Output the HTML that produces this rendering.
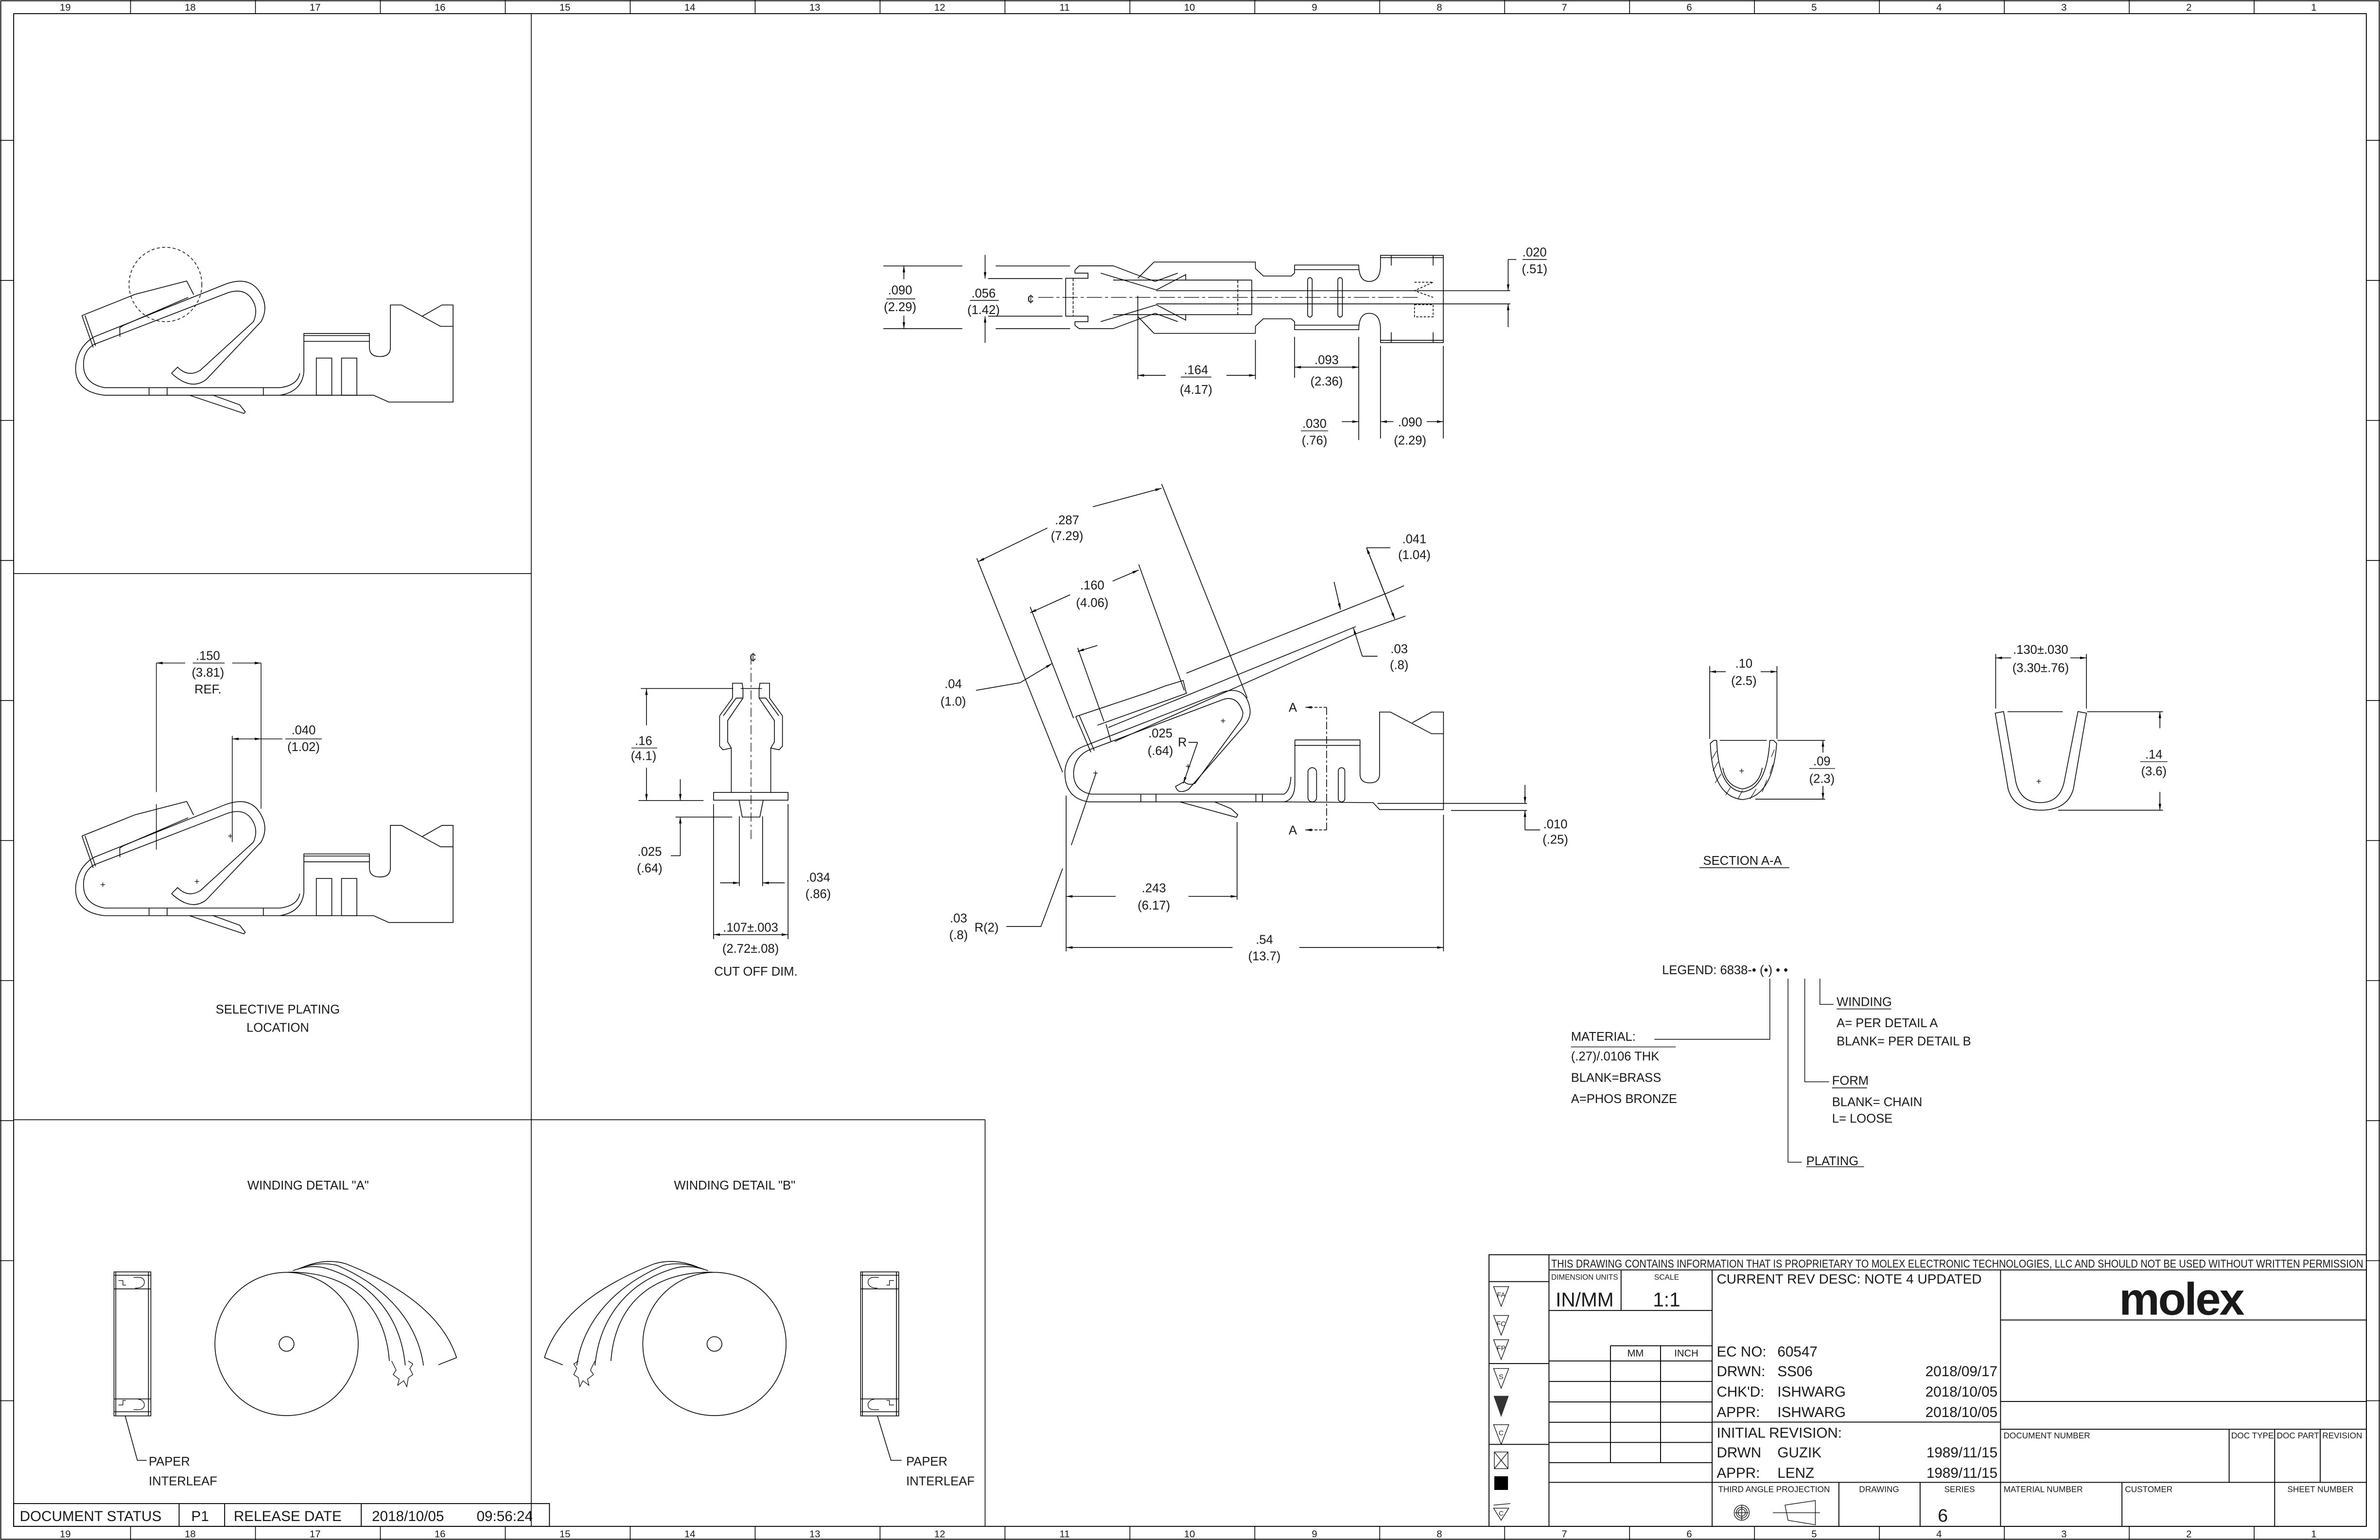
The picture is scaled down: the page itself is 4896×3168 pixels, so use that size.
<!DOCTYPE html>
<html><head><meta charset="utf-8"><style>
html,body{margin:0;padding:0;background:#fff;}
svg{display:block;}
text{font-family:"Liberation Sans",sans-serif;fill:#1a1a1a;}
.d{font-size:8.2px;text-anchor:middle;}
.l{font-size:8.2px;}
</style></head><body>
<svg xmlns="http://www.w3.org/2000/svg" width="4896" height="3168" viewBox="0 0 1568 1015" preserveAspectRatio="none">
<defs>
<marker id="a" viewBox="0 0 10 4" refX="10" refY="2" markerWidth="4.2" markerHeight="1.7" markerUnits="userSpaceOnUse" orient="auto-start-reverse"><path d="M0,0 L10,2 L0,4 z" fill="#000"/></marker>
<g id="conn" fill="none" stroke="#000" stroke-width="0.5">
<path d="M184.5,260.5 L68.8,260.5 Q48,258 50,240 Q52,228 62,222 L148,187.5 Q165,181 172,194 Q177,203 172,212 L136,250 Q126,258 113,246"/>
<path d="M184.5,255.5 L69,255.5 Q55,253 55,240 Q55,231 62,227 L150,193 Q162,189 167,199 Q170,205 167,212 L132,244 Q124,249 117,242 L113,246"/>
<polyline points="54,208 61.4,229 "/>
<polyline points="54,208 89,194 118.4,186.4 123,185.2 127.6,194.2"/>
<polyline points="56,208 63,228"/>
<polyline points="79,222 78.9,216 81,214.6 124,196"/>
<line x1="98.2" y1="255.5" x2="98.2" y2="260.5"/><line x1="110.1" y1="255.5" x2="110.1" y2="260.5"/><line x1="173.5" y1="255.5" x2="173.5" y2="260.5"/>
<polyline points="124.8,260.5 160.7,272.5 161.6,271.5 157.9,266.8 140.4,260.5"/>
<path d="M184.5,260.5 Q199,258 200.2,245 L200.2,219.8 L243.4,219.8 L243.4,229 Q243.4,235 250.3,235 Q257.2,235 257.2,229 L257.2,201 L264.5,201 L290.2,215.1 L298.5,215.1"/>
<path d="M184.5,255.5 Q196,254 197.5,246"/>
<line x1="200.2" y1="221.2" x2="243.4" y2="221.2"/><line x1="200.2" y1="225" x2="243.4" y2="225"/>
<polyline points="278.3,208.3 291.2,201 298.5,201 298.5,265 256.2,265 246.1,260.5 184.5,260.5"/>
<rect x="208.4" y="236" width="10.2" height="24.5"/><rect x="225" y="236" width="10.1" height="24.5"/>
</g>
</defs>
<rect x="0.5" y="0.5" width="1567" height="1014" fill="#fff" stroke="#000" stroke-width="0.6"/>
<rect x="9" y="9" width="1550" height="997" fill="none" stroke="#000" stroke-width="0.6"/>
<g stroke="#000" stroke-width="0.5">
<line x1="86" y1="0" x2="86" y2="9"/><line x1="168.3" y1="0" x2="168.3" y2="9"/><line x1="250.6" y1="0" x2="250.6" y2="9"/><line x1="332.9" y1="0" x2="332.9" y2="9"/><line x1="415.2" y1="0" x2="415.2" y2="9"/><line x1="497.5" y1="0" x2="497.5" y2="9"/><line x1="579.8" y1="0" x2="579.8" y2="9"/><line x1="662.1" y1="0" x2="662.1" y2="9"/><line x1="744.4" y1="0" x2="744.4" y2="9"/><line x1="826.7" y1="0" x2="826.7" y2="9"/><line x1="909" y1="0" x2="909" y2="9"/><line x1="991.3" y1="0" x2="991.3" y2="9"/><line x1="1073.6" y1="0" x2="1073.6" y2="9"/><line x1="1155.9" y1="0" x2="1155.9" y2="9"/><line x1="1238.2" y1="0" x2="1238.2" y2="9"/><line x1="1320.5" y1="0" x2="1320.5" y2="9"/><line x1="1402.8" y1="0" x2="1402.8" y2="9"/><line x1="1485.1" y1="0" x2="1485.1" y2="9"/>
<line x1="86" y1="1006" x2="86" y2="1015"/><line x1="168.3" y1="1006" x2="168.3" y2="1015"/><line x1="250.6" y1="1006" x2="250.6" y2="1015"/><line x1="332.9" y1="1006" x2="332.9" y2="1015"/><line x1="415.2" y1="1006" x2="415.2" y2="1015"/><line x1="497.5" y1="1006" x2="497.5" y2="1015"/><line x1="579.8" y1="1006" x2="579.8" y2="1015"/><line x1="662.1" y1="1006" x2="662.1" y2="1015"/><line x1="744.4" y1="1006" x2="744.4" y2="1015"/><line x1="826.7" y1="1006" x2="826.7" y2="1015"/><line x1="909" y1="1006" x2="909" y2="1015"/><line x1="991.3" y1="1006" x2="991.3" y2="1015"/><line x1="1073.6" y1="1006" x2="1073.6" y2="1015"/><line x1="1155.9" y1="1006" x2="1155.9" y2="1015"/><line x1="1238.2" y1="1006" x2="1238.2" y2="1015"/><line x1="1320.5" y1="1006" x2="1320.5" y2="1015"/><line x1="1402.8" y1="1006" x2="1402.8" y2="1015"/><line x1="1485.1" y1="1006" x2="1485.1" y2="1015"/>
<line x1="0" y1="92.5" x2="9" y2="92.5"/><line x1="0" y1="184.8" x2="9" y2="184.8"/><line x1="0" y1="277.1" x2="9" y2="277.1"/><line x1="0" y1="369.4" x2="9" y2="369.4"/><line x1="0" y1="461.7" x2="9" y2="461.7"/><line x1="0" y1="554" x2="9" y2="554"/><line x1="0" y1="646.3" x2="9" y2="646.3"/><line x1="0" y1="738.6" x2="9" y2="738.6"/><line x1="0" y1="830.9" x2="9" y2="830.9"/><line x1="0" y1="923.2" x2="9" y2="923.2"/>
<line x1="1559" y1="92.5" x2="1568" y2="92.5"/><line x1="1559" y1="184.8" x2="1568" y2="184.8"/><line x1="1559" y1="277.1" x2="1568" y2="277.1"/><line x1="1559" y1="369.4" x2="1568" y2="369.4"/><line x1="1559" y1="461.7" x2="1568" y2="461.7"/><line x1="1559" y1="554" x2="1568" y2="554"/><line x1="1559" y1="646.3" x2="1568" y2="646.3"/><line x1="1559" y1="738.6" x2="1568" y2="738.6"/><line x1="1559" y1="830.9" x2="1568" y2="830.9"/><line x1="1559" y1="923.2" x2="1568" y2="923.2"/>
<line x1="350" y1="9" x2="350" y2="1006"/>
<line x1="9" y1="378" x2="350" y2="378"/>
<line x1="9" y1="738" x2="649" y2="738"/>
<line x1="649" y1="738" x2="649" y2="1006"/>
</g>
<g font-size="6.5" text-anchor="middle">
<text x="43" y="7">19</text><text x="125.3" y="7">18</text><text x="207.6" y="7">17</text><text x="289.9" y="7">16</text><text x="372.2" y="7">15</text><text x="454.5" y="7">14</text><text x="536.8" y="7">13</text><text x="619.1" y="7">12</text><text x="701.4" y="7">11</text><text x="783.7" y="7">10</text><text x="866" y="7">9</text><text x="948.3" y="7">8</text><text x="1030.6" y="7">7</text><text x="1112.9" y="7">6</text><text x="1195.2" y="7">5</text><text x="1277.5" y="7">4</text><text x="1359.8" y="7">3</text><text x="1442.1" y="7">2</text><text x="1524.4" y="7">1</text>
<text x="43" y="1013.2">19</text><text x="125.3" y="1013.2">18</text><text x="207.6" y="1013.2">17</text><text x="289.9" y="1013.2">16</text><text x="372.2" y="1013.2">15</text><text x="454.5" y="1013.2">14</text><text x="536.8" y="1013.2">13</text><text x="619.1" y="1013.2">12</text><text x="701.4" y="1013.2">11</text><text x="783.7" y="1013.2">10</text><text x="866" y="1013.2">9</text><text x="948.3" y="1013.2">8</text><text x="1030.6" y="1013.2">7</text><text x="1112.9" y="1013.2">6</text><text x="1195.2" y="1013.2">5</text><text x="1277.5" y="1013.2">4</text><text x="1359.8" y="1013.2">3</text><text x="1442.1" y="1013.2">2</text><text x="1524.4" y="1013.2">1</text>
</g>

<use href="#conn"/>
<ellipse cx="109" cy="187.5" rx="24" ry="24.5" fill="none" stroke="#000" stroke-width="0.45" stroke-dasharray="2,1.5"/>

<use href="#conn" transform="translate(0,343)"/>
<g fill="none" stroke="#000" stroke-width="0.45">
<line x1="103" y1="437" x2="103" y2="522"/><line x1="103" y1="530" x2="103" y2="560"/>
<line x1="172" y1="437" x2="172" y2="533"/>
<line x1="153" y1="485" x2="153" y2="555"/>
<line x1="103" y1="437" x2="122" y2="437" marker-start="url(#a)"/><line x1="153" y1="437" x2="172" y2="437" marker-end="url(#a)"/>
<line x1="153" y1="487" x2="172" y2="487" marker-start="url(#a)" marker-end="url(#a)"/><line x1="172" y1="487" x2="186" y2="487"/>
<line x1="127" y1="437" x2="148" y2="437"/><line x1="188" y1="487" x2="212" y2="487"/>
</g>
<text class="d" x="137" y="435">.150</text><text class="d" x="137" y="446">(3.81)</text><text class="d" x="137" y="457">REF.</text>
<text class="d" x="200" y="484">.040</text><text class="d" x="200" y="495">(1.02)</text>
<text class="d" x="183" y="668">SELECTIVE PLATING</text><text class="d" x="183" y="680">LOCATION</text>
<g font-size="6" fill="#000"><text x="66" y="585">+</text><text x="128" y="583">+</text><text x="150" y="553">+</text></g>

<g fill="none" stroke="#000" stroke-width="0.5">
<path d="M733.4,175.2 L711,175.2 L708.2,178 L708.2,180 L716.8,180 L716.8,183.4 L702.1,183.4 L702.1,208.4 L716.8,208.4 L716.8,212 L708.2,212 L708.2,214.5 L711,216.6 L733.4,216.6"/>
<line x1="707" y1="183.4" x2="707" y2="208.4" stroke-dasharray="2,1"/>
<polyline points="725.1,180 761.9,191.1 781.2,181 781.2,184.6"/>
<polyline points="733.4,175.2 755,183.4 761,185.5 776,180"/>
<polyline points="725.1,212 761.9,200.9 781.2,211 781.2,207.4"/>
<polyline points="733.4,216.6 755,208.6 761,206.5 776,212"/>
<path d="M749.6,183.4 L760.3,172.7 L827.1,172.7 L827.1,177 L832.3,181.9 L850.7,181.9 L852.9,180 L852.9,174.7 L895.2,174.7 Q895.2,185.5 902,185.5 Q909.5,185.5 909.5,174.7 L909.5,168.3 L950.9,168.3 L950.9,225.8 L909.5,225.8 L909.5,217.3 Q909.5,206.5 902,206.5 Q895.2,206.5 895.2,217.3 L852.9,217.3 L852.9,212 L850.7,210.1 L832.3,210.1 L827.1,215 L827.1,219.7 L760.3,219.7 L749.6,208.6"/>
<line x1="852.9" y1="177.7" x2="895.2" y2="177.7"/><line x1="852.9" y1="214.3" x2="895.2" y2="214.3"/>
<line x1="909.5" y1="169.8" x2="950.9" y2="169.8"/><line x1="909.5" y1="224.3" x2="950.9" y2="224.3"/>
<line x1="916.6" y1="168.3" x2="916.6" y2="175"/><line x1="944.2" y1="168.3" x2="944.2" y2="175"/>
<line x1="916.6" y1="219" x2="916.6" y2="225.8"/><line x1="944.2" y1="219" x2="944.2" y2="225.8"/>
<line x1="733.4" y1="184.6" x2="824.7" y2="184.6"/><line x1="733.4" y1="207.4" x2="824.7" y2="207.4"/>
<line x1="824.7" y1="184.6" x2="824.7" y2="207.4"/>
<line x1="815.5" y1="184.6" x2="815.5" y2="207.4" stroke-dasharray="2,1"/>
<line x1="761.9" y1="191.6" x2="995" y2="191.6"/><line x1="761.9" y1="200.3" x2="995" y2="200.3"/>
<rect x="861.5" y="183" width="3" height="26" rx="1.5"/><rect x="881.4" y="183" width="3" height="26" rx="1.5"/>
<polyline points="931.9,186 944.2,186 931.9,191.6 944.2,196" stroke-dasharray="1.5,1"/>
<rect x="931.9" y="200.8" width="12.3" height="8" stroke-dasharray="1.5,1"/>
<line x1="684" y1="196" x2="935" y2="196" stroke-width="0.4" stroke-dasharray="10,2,2,2"/>
<line x1="582" y1="175.3" x2="634" y2="175.3"/><line x1="656" y1="175.3" x2="705" y2="175.3"/>
<line x1="582" y1="216.6" x2="634" y2="216.6"/><line x1="656" y1="216.6" x2="705" y2="216.6"/>
<line x1="595.5" y1="184" x2="595.5" y2="175.3" marker-end="url(#a)"/><line x1="595.5" y1="208" x2="595.5" y2="216.6" marker-end="url(#a)"/>
<line x1="651" y1="183.6" x2="700" y2="183.6"/><line x1="651" y1="208.4" x2="700" y2="208.4"/>
<line x1="649" y1="168" x2="649" y2="183.6" marker-end="url(#a)"/><line x1="649" y1="226" x2="649" y2="208.4" marker-end="url(#a)"/>
<line x1="584" y1="197" x2="603" y2="197"/><line x1="639" y1="198" x2="658" y2="198"/>
<line x1="993.6" y1="171" x2="993.6" y2="191.6" marker-end="url(#a)"/><line x1="993.6" y1="215.6" x2="993.6" y2="200.3" marker-end="url(#a)"/>
<line x1="993.6" y1="171" x2="999" y2="171"/><line x1="1003" y1="171" x2="1019" y2="171"/>
<line x1="749.6" y1="195" x2="749.6" y2="250"/><line x1="827.1" y1="224" x2="827.1" y2="250"/>
<line x1="749.6" y1="247.4" x2="768" y2="247.4" marker-start="url(#a)"/><line x1="808" y1="247.4" x2="827.1" y2="247.4" marker-end="url(#a)"/><line x1="778" y1="248.5" x2="798" y2="248.5"/>
<line x1="852.9" y1="222" x2="852.9" y2="249"/><line x1="895.2" y1="222" x2="895.2" y2="290"/>
<line x1="852.9" y1="242" x2="895.2" y2="242" marker-start="url(#a)" marker-end="url(#a)"/>
<line x1="884" y1="277.9" x2="895.2" y2="277.9" marker-end="url(#a)"/>
<line x1="909.5" y1="228" x2="909.5" y2="289"/><line x1="950.9" y1="228" x2="950.9" y2="289"/>
<line x1="909.5" y1="277.9" x2="918" y2="277.9" marker-start="url(#a)"/><line x1="940" y1="277.9" x2="950.9" y2="277.9" marker-end="url(#a)"/>
</g>
<text class="d" x="593" y="194">.090</text><text class="d" x="593" y="205">(2.29)</text>
<text class="d" x="648" y="196">.056</text><text class="d" x="648" y="207">(1.42)</text>
<text class="d" x="679" y="200" font-size="7">¢</text>
<text class="d" x="1011" y="169">.020</text><text class="d" x="1011" y="180">(.51)</text>
<text class="d" x="788" y="246.5">.164</text><text class="d" x="788" y="259.5">(4.17)</text>
<text class="d" x="874" y="240">.093</text><text class="d" x="874" y="254">(2.36)</text>
<text class="d" x="866" y="282">.030</text><text class="d" x="866" y="293">(.76)</text>
<line x1="857" y1="284" x2="875" y2="284" stroke="#000" stroke-width="0.4"/>
<text class="d" x="929" y="281">.090</text><text class="d" x="929" y="293">(2.29)</text>

<g fill="none" stroke="#000" stroke-width="0.5">
<rect x="470.1" y="522.3" width="49.1" height="5.1"/>
<polyline points="481.8,522.3 481.8,493 476.3,494.2 474.1,491.8 474.1,471.8 482.6,460.1 482.6,450.3 489,450.3 489.5,454.5 489.5,460.1 479.4,474.9 479.4,489 481.8,493"/>
<polyline points="476.5,471.8 485,460.1 489.5,460.1"/>
<polyline points="507.8,522.3 507.8,493 513.3,494.2 515.5,491.8 515.5,471.8 507,460.1 507,450.3 500.6,450.3 500.1,454.5 500.1,460.1 510.2,474.9 510.2,489 507.8,493"/>
<polyline points="513.1,471.8 504.6,460.1 500.1,460.1"/>
<polyline points="486.9,527.4 489,538.5 500.6,538.5 502.8,527.4"/>
<line x1="494.8" y1="432" x2="494.8" y2="555" stroke-width="0.4" stroke-dasharray="6,2,1.5,2"/>
<line x1="422.2" y1="453.8" x2="483" y2="453.8"/><line x1="488" y1="453.8" x2="502" y2="453.8"/>
<line x1="425.9" y1="478" x2="425.9" y2="453.8" marker-end="url(#a)"/><line x1="425.9" y1="506" x2="425.9" y2="527.6" marker-end="url(#a)"/>
<line x1="420.6" y1="527.6" x2="463.5" y2="527.6"/>
<line x1="448.2" y1="513.6" x2="448.2" y2="527.6" marker-end="url(#a)"/>
<line x1="445" y1="538.5" x2="482.4" y2="538.5"/>
<line x1="448.2" y1="564" x2="448.2" y2="538.5" marker-end="url(#a)"/><line x1="442" y1="564" x2="448.2" y2="564"/>
<line x1="487.1" y1="538" x2="487.1" y2="584"/><line x1="502.4" y1="538" x2="502.4" y2="584"/>
<line x1="474.4" y1="581.9" x2="487.1" y2="581.9" marker-end="url(#a)"/><line x1="517" y1="581.9" x2="502.4" y2="581.9" marker-end="url(#a)"/>
<line x1="470.1" y1="530" x2="470.1" y2="619"/><line x1="519.2" y1="530" x2="519.2" y2="619"/>
<line x1="470.1" y1="616" x2="519.2" y2="616" marker-start="url(#a)" marker-end="url(#a)"/>
</g>
<text class="d" x="496" y="436" font-size="7">¢</text>
<text class="d" x="424" y="491">.16</text><text class="d" x="424" y="501">(4.1)</text>
<line x1="416" y1="493" x2="433" y2="493" stroke="#000" stroke-width="0.4"/>
<text class="d" x="428" y="564">.025</text><text class="d" x="428" y="575">(.64)</text>
<text class="d" x="539" y="581">.034</text><text class="d" x="539" y="592">(.86)</text>
<text class="d" x="494.5" y="614">.107±.003</text><text class="d" x="494.5" y="628">(2.72±.08)</text>
<text class="d" x="498" y="643">CUT OFF DIM.</text>

<g fill="none" stroke="#000" stroke-width="0.5">
<path d="M717.3,528.5 L846,528.5 Q853.1,527 853.1,516.3 L853.1,487.7"/>
<path d="M717.3,528.5 Q701,526 701.6,508 Q703,496 714.4,491.7 L805.9,456 Q820,452 823.1,465.2 Q825,472 820,478 L783,520.3 Q776,524 774.5,518.3 L780.2,515.2"/>
<path d="M718.7,523.4 L846,523.4 Q850,521 850.5,512"/>
<path d="M718.7,523.4 Q707,521 707.3,509 Q708,498 718.7,493.8 L805.9,461 Q815,458 818.8,469.3 Q819,473 816,477 L787.3,516.3 Q783,518 780.2,515.2"/>
<polyline points="708.7,472.3 718.7,495.8"/>
<polyline points="711,471.5 721,494.8"/>
<polyline points="708.7,472.3 754.5,457 768,452 779.5,448.5 781.6,457 723,478"/>
<line x1="728.7" y1="477.4" x2="732" y2="489"/>
<line x1="781.6" y1="443.7" x2="914.6" y2="390.6"/>
<line x1="730.2" y1="479.5" x2="893.2" y2="413"/>
<line x1="734.4" y1="488.7" x2="894.6" y2="417.2"/>
<line x1="751.6" y1="523.4" x2="751.6" y2="528.5"/><line x1="761.6" y1="523.4" x2="761.6" y2="528.5"/><line x1="827.4" y1="523.4" x2="827.4" y2="528.5"/><line x1="831.7" y1="523.4" x2="831.7" y2="528.5"/>
<polyline points="777.3,528.5 814.5,538.7 815.5,537 811,533 800.2,528.5"/>
<path d="M853.1,487.7 L896,487.7 L896,510.1 Q896,516 902.5,516 Q908.9,516 908.9,510.1 L908.9,469.3 L916,469.3 L943.2,483.6 L951,483.6"/>
<line x1="853.1" y1="491.3" x2="896" y2="491.3"/>
<polyline points="930.4,476.4 943.2,469.3 951,469.3 951,533.6 908.9,533.6 904.6,529 846,528.5"/>
<rect x="861.7" y="506" width="5.7" height="22.5" rx="2.8"/><rect x="881.7" y="506" width="4.3" height="22.5" rx="2.1"/>
<line x1="874" y1="466.2" x2="874" y2="547" stroke-dasharray="5,1.5,1.5,1.5"/>
<line x1="874" y1="466.2" x2="860" y2="466.2" marker-end="url(#a)" stroke-dasharray="2,1"/>
<line x1="874" y1="547" x2="860" y2="547" marker-end="url(#a)" stroke-dasharray="2,1"/>
<line x1="643.5" y1="368" x2="700.1" y2="509"/>
<line x1="765.3" y1="319" x2="821.7" y2="460"/>
<line x1="690" y1="348" x2="644.4" y2="370.2" marker-end="url(#a)"/>
<line x1="720" y1="334" x2="765.3" y2="321.8" marker-end="url(#a)"/>
<line x1="678.7" y1="400" x2="707.3" y2="473.4"/>
<line x1="750.2" y1="372" x2="780.2" y2="455"/>
<line x1="705" y1="392" x2="678.7" y2="403.9" marker-end="url(#a)"/>
<line x1="733" y1="383" x2="750.2" y2="375.7" marker-end="url(#a)"/>
<line x1="710" y1="427" x2="727.3" y2="475.4"/>
<line x1="672" y1="450" x2="693" y2="437.4" marker-end="url(#a)"/>
<line x1="643" y1="455" x2="672" y2="450"/>
<line x1="723" y1="425.4" x2="710" y2="429.4" marker-end="url(#a)"/>
<line x1="914.6" y1="390.6" x2="925" y2="386"/>
<line x1="894.6" y1="417.2" x2="926" y2="406"/>
<line x1="900.3" y1="361" x2="918.9" y2="408" marker-end="url(#a)"/>
<line x1="918.9" y1="408" x2="900.3" y2="361" marker-end="url(#a)"/>
<line x1="900.3" y1="361" x2="916" y2="361"/>
<line x1="878.9" y1="383.5" x2="883.2" y2="401.8" marker-end="url(#a)"/>
<line x1="897.5" y1="432.5" x2="891.7" y2="414" marker-end="url(#a)"/>
<line x1="897.5" y1="432.5" x2="907.5" y2="432.5"/>
<line x1="779.6" y1="516.3" x2="789" y2="489.3" marker-start="url(#a)"/>
<line x1="783" y1="489.3" x2="789" y2="489.3"/>
<line x1="907.5" y1="529.5" x2="1006" y2="529.5"/><line x1="956" y1="534.2" x2="1006" y2="534.2"/>
<line x1="1004.7" y1="517.3" x2="1004.7" y2="529.5" marker-end="url(#a)"/>
<line x1="1004.7" y1="547" x2="1004.7" y2="534.2" marker-end="url(#a)"/>
<line x1="1004.7" y1="547" x2="1014.7" y2="547"/>
<line x1="702.4" y1="524.4" x2="702.4" y2="627"/><line x1="815" y1="541.8" x2="815" y2="593"/><line x1="951" y1="537" x2="951" y2="627"/>
<line x1="702.4" y1="590.8" x2="735" y2="590.8" marker-start="url(#a)"/><line x1="783" y1="590.8" x2="815" y2="590.8" marker-end="url(#a)"/>
<line x1="702.4" y1="624.5" x2="812" y2="624.5" marker-start="url(#a)"/><line x1="856" y1="624.5" x2="951" y2="624.5" marker-end="url(#a)"/>
<polyline points="722.1,509.5 705.8,557"/>
<polyline points="700.1,572.4 685.8,610.6 663,610.6"/>
</g>
<g font-size="6" fill="#000"><text x="804" y="477">+</text><text x="781" y="507">+</text><text x="720" y="511.5">+</text></g>
<text class="d" x="703" y="345.5">.287</text><text class="d" x="703" y="356">(7.29)</text>
<text class="d" x="719.6" y="388.5">.160</text><text class="d" x="719.6" y="400">(4.06)</text>
<text class="d" x="628" y="453.5">.04</text><text class="d" x="628" y="465">(1.0)</text>
<text class="d" x="931.8" y="358">.041</text><text class="d" x="931.8" y="368.5">(1.04)</text>
<text class="d" x="921.8" y="430.5">.03</text><text class="d" x="921.8" y="441">(.8)</text>
<text class="d" x="764.5" y="486">.025</text><text class="d" x="764.5" y="497.5">(.64)</text><text class="l" x="776" y="492">R</text>
<text class="l" x="849" y="469">A</text><text class="l" x="849" y="550">A</text>
<text class="d" x="1024.7" y="546">.010</text><text class="d" x="1024.7" y="556">(.25)</text>
<text class="d" x="760.2" y="588">.243</text><text class="d" x="760.2" y="599.5">(6.17)</text>
<text class="d" x="833" y="622">.54</text><text class="d" x="833" y="633">(13.7)</text>
<text class="d" x="631.5" y="608">.03</text><text class="d" x="631.5" y="619">(.8)</text><text class="l" x="642" y="614">R(2)</text>

<g fill="none" stroke="#000" stroke-width="0.5">
<path d="M1126.8,490 L1129,488 L1131,488 Q1132,520 1148,522 Q1164,520 1166,488 L1168.5,488 L1170.5,490 Q1168,525 1148,527 Q1128,525 1126.8,490 Z"/>
<path d="M1135,506 Q1137,518 1148,520 Q1159,518 1161,506"/>
<g stroke-width="0.35"><line x1="1128" y1="500" x2="1131" y2="495"/><line x1="1128.5" y1="508" x2="1132" y2="502"/><line x1="1130" y1="516" x2="1134" y2="510"/><line x1="1137" y1="524" x2="1140" y2="519"/><line x1="1145" y1="526.5" x2="1148" y2="521"/><line x1="1153" y1="526.5" x2="1157" y2="520"/><line x1="1161" y1="522" x2="1164" y2="514"/><line x1="1166" y1="510" x2="1168" y2="504"/><line x1="1167" y1="499" x2="1169" y2="494"/></g>
<line x1="1133" y1="488" x2="1164" y2="488"/><line x1="1171" y1="488" x2="1202.4" y2="488"/>
<line x1="1156.4" y1="526.7" x2="1202.4" y2="526.7"/>
<line x1="1126.4" y1="439" x2="1126.4" y2="487"/><line x1="1170.7" y1="439" x2="1170.7" y2="487"/>
<line x1="1137" y1="442.7" x2="1126.4" y2="442.7" marker-end="url(#a)"/><line x1="1160" y1="442.7" x2="1170.7" y2="442.7" marker-end="url(#a)"/>
<line x1="1201" y1="496" x2="1201" y2="488" marker-end="url(#a)"/><line x1="1201" y1="518" x2="1201" y2="526.7" marker-end="url(#a)"/>
<line x1="1119.6" y1="571.9" x2="1178.8" y2="571.9"/>
<path d="M1314.5,470 L1323,520 Q1327,534 1344.4,534 Q1362,534 1366,520 L1374.6,470 L1369,469 L1360,515 Q1357,529 1344.4,529 Q1331,529 1328,515 L1320,469 Z"/>
<line x1="1322.6" y1="469.1" x2="1359" y2="469.1"/><line x1="1375" y1="469.1" x2="1425" y2="469.1"/>
<line x1="1356" y1="534" x2="1425" y2="534"/>
<line x1="1314.8" y1="431" x2="1314.8" y2="467"/><line x1="1374.6" y1="431" x2="1374.6" y2="467"/>
<line x1="1325" y1="433.6" x2="1314.8" y2="433.6" marker-end="url(#a)"/><line x1="1364" y1="433.6" x2="1374.6" y2="433.6" marker-end="url(#a)"/>
<line x1="1423" y1="480" x2="1423" y2="469.1" marker-end="url(#a)"/><line x1="1423" y1="522" x2="1423" y2="534" marker-end="url(#a)"/>
</g>
<g font-size="6" fill="#000"><text x="1145.7" y="510">+</text><text x="1341.4" y="517">+</text></g>
<text class="d" x="1148.9" y="440">.10</text><text class="d" x="1148.9" y="451.5">(2.5)</text>
<text class="d" x="1200.3" y="504.5">.09</text><text class="d" x="1200.3" y="516">(2.3)</text>
<line x1="1192" y1="506.5" x2="1209" y2="506.5" stroke="#000" stroke-width="0.4"/>
<text class="d" x="1148" y="570">SECTION A-A</text>
<text class="d" x="1344.4" y="431">.130±.030</text><text class="d" x="1344.4" y="443">(3.30±.76)</text>
<text class="d" x="1419" y="500">.14</text><text class="d" x="1419" y="511">(3.6)</text>
<line x1="1410" y1="502" x2="1428" y2="502" stroke="#000" stroke-width="0.4"/>

<text class="l" x="1095" y="642">LEGEND:  6838-•  (•)  •  •</text>
<g fill="none" stroke="#000" stroke-width="0.45">
<polyline points="1199,645 1199,662 1208,662"/>
<polyline points="1166,645 1166,685 1090,685"/>
<polyline points="1189,645 1189,713 1205,713"/>
<polyline points="1178,645 1178,766 1187,766"/>
<line x1="1210" y1="665" x2="1246" y2="665"/>
<line x1="1207" y1="717" x2="1230" y2="717"/>
<line x1="1190" y1="769" x2="1228" y2="769"/>
</g>
<text class="l" x="1210" y="663">WINDING</text>
<text class="l" x="1210" y="677">A= PER DETAIL A</text>
<text class="l" x="1210" y="689">BLANK= PER DETAIL B</text>
<text class="l" x="1035" y="686">MATERIAL:</text>
<text class="l" x="1035" y="699">(.27)/.0106 THK</text>
<line x1="1035" y1="690" x2="1104" y2="690" stroke="#000" stroke-width="0.4"/>
<text class="l" x="1035" y="713">BLANK=BRASS</text>
<text class="l" x="1035" y="727">A=PHOS BRONZE</text>
<text class="l" x="1207" y="715">FORM</text>
<text class="l" x="1207" y="729">BLANK= CHAIN</text>
<text class="l" x="1207" y="740">L= LOOSE</text>
<text class="l" x="1190" y="768">PLATING</text>

<text class="d" x="203" y="784">WINDING DETAIL "A"</text>
<text class="d" x="484" y="784">WINDING DETAIL "B"</text>
<g fill="none" stroke="#000" stroke-width="0.5">
<circle cx="188.8" cy="885.8" r="47.2"/>
<ellipse cx="188.8" cy="885.8" rx="4.9" ry="4.8"/>
<path d="M190,838.5 C232,838 254,862 256.5,897"/>
<path d="M193,837.5 Q205,833 215,836 C245,845 264,868 267,900"/>
<path d="M196,836.5 Q210,831 222,834 C255,848 275,872 279,900"/>
<path d="M200,835 Q215,829 228,833 C266,848 292,868 300.8,894.8 L288.7,899.6"/>
<path d="M258,897 l3,6 l-2,3 l4,3 l-1,4 l4,-3 l2,4 l1,-6 l3,-2 l-2,-4 l2,-3 l-3,-2" stroke-width="0.4"/>
<rect x="75.1" y="838.3" width="24.3" height="94.9"/>
<line x1="76.3" y1="838.3" x2="76.3" y2="933.2"/><line x1="97.8" y1="838.3" x2="97.8" y2="933.2"/>
<line x1="75.1" y1="840.5" x2="99.4" y2="840.5"/><line x1="75.1" y1="849.5" x2="99.4" y2="849.5"/>
<line x1="75.1" y1="922" x2="99.4" y2="922"/><line x1="75.1" y1="930.5" x2="99.4" y2="930.5"/>
<path d="M88,842 q8,-1 7,4 q-1,3 -6,3 M78,844 h3 v3 h2" stroke-width="0.4"/>
<path d="M88,929 q8,1 7,-4 q-1,-3 -6,-3 M78,926 h3 v-3 h2" stroke-width="0.4"/>
<polyline points="82.4,933 90.5,962.5 96.6,962.5"/>
<circle cx="470.7" cy="885.8" r="47.2"/>
<ellipse cx="470.7" cy="885.8" rx="4.9" ry="4.8"/>
<path d="M469.5,838.5 C427,838 405,862 402.5,897"/>
<path d="M466.5,837.5 Q454,833 444,836 C414,845 395,868 392,900"/>
<path d="M463.5,836.5 Q449,831 437,834 C404,848 384,872 380,900"/>
<path d="M459.5,835 Q444,829 431,833 C393,848 367,868 358.7,894.8 L370.8,899.6"/>
<path d="M392,897 l-3,6 l2,3 l-4,3 l1,4 l-4,-3 l-2,4 l-1,-6 l-3,-2 l2,-4 l-2,-3 l3,-2" stroke-width="0.4"/>
<rect x="567" y="838.3" width="25.1" height="94.9"/>
<line x1="568.2" y1="838.3" x2="568.2" y2="933.2"/><line x1="590.6" y1="838.3" x2="590.6" y2="933.2"/>
<line x1="567" y1="840.5" x2="592.1" y2="840.5"/><line x1="567" y1="849.5" x2="592.1" y2="849.5"/>
<line x1="567" y1="922" x2="592.1" y2="922"/><line x1="567" y1="930.5" x2="592.1" y2="930.5"/>
<path d="M579,842 q-8,-1 -7,4 q1,3 6,3 M589,844 h-3 v3 h-2" stroke-width="0.4"/>
<path d="M579,929 q-8,1 -7,-4 q1,-3 6,-3 M589,926 h-3 v-3 h-2" stroke-width="0.4"/>
<polyline points="578,933 587,962.5 594,962.5"/>
</g>
<text class="l" x="98" y="966">PAPER</text><text class="l" x="98" y="979">INTERLEAF</text>
<text class="l" x="597" y="966">PAPER</text><text class="l" x="597" y="979">INTERLEAF</text>

<g fill="none" stroke="#000" stroke-width="0.6">
<rect x="9" y="991" width="353" height="15"/>
<line x1="118" y1="991" x2="118" y2="1006"/><line x1="148" y1="991" x2="148" y2="1006"/><line x1="238" y1="991" x2="238" y2="1006"/>
</g>
<g font-size="9.5"><text x="13" y="1002.5">DOCUMENT STATUS</text><text x="126" y="1002.5">P1</text><text x="154" y="1002.5">RELEASE DATE</text><text x="245" y="1002.5">2018/10/05</text><text x="314" y="1002.5">09:56:24</text></g>

<g fill="none" stroke="#000" stroke-width="0.6">
<rect x="981" y="827" width="578" height="179" fill="#fff"/>
<line x1="1020.5" y1="827" x2="1020.5" y2="1006"/>
<line x1="1020.5" y1="837" x2="1559" y2="837"/>
<line x1="1068" y1="837" x2="1068" y2="863.7"/>
<line x1="1020.5" y1="863.7" x2="1128" y2="863.7"/>
<line x1="1128" y1="837" x2="1128" y2="1006"/>
<line x1="1318" y1="837" x2="1318" y2="1006"/>
<line x1="1318" y1="870" x2="1559" y2="870"/>
<line x1="1318" y1="923.7" x2="1559" y2="923.7"/>
<line x1="1318" y1="942" x2="1559" y2="942"/>
<line x1="1020.5" y1="977" x2="1559" y2="977"/>
<line x1="1468.6" y1="942" x2="1468.6" y2="977"/><line x1="1498.6" y1="942" x2="1498.6" y2="977"/><line x1="1528.6" y1="942" x2="1528.6" y2="977"/>
<line x1="1211.5" y1="977" x2="1211.5" y2="1006"/><line x1="1265" y1="977" x2="1265" y2="1006"/>
<line x1="1398" y1="977" x2="1398" y2="1006"/><line x1="1498.6" y1="977" x2="1498.6" y2="1006"/>
<line x1="1128" y1="937.3" x2="1318" y2="937.3"/>
<line x1="1061" y1="887" x2="1128" y2="887"/>
<line x1="1020.5" y1="897" x2="1128" y2="897"/><line x1="1020.5" y1="910.5" x2="1128" y2="910.5"/><line x1="1020.5" y1="924" x2="1128" y2="924"/><line x1="1020.5" y1="937.4" x2="1128" y2="937.4"/><line x1="1020.5" y1="950.7" x2="1128" y2="950.7"/><line x1="1020.5" y1="964" x2="1128" y2="964"/>
<line x1="1061" y1="887" x2="1061" y2="964"/><line x1="1094" y1="887" x2="1094" y2="964"/>
<line x1="981" y1="844.7" x2="1020.5" y2="844.7"/><line x1="981" y1="898.7" x2="1020.5" y2="898.7"/><line x1="981" y1="952" x2="1020.5" y2="952"/>
</g>
<g fill="none" stroke="#000" stroke-width="0.4">
<path d="M984,848 L994,848 L989,861 Z"/><path d="M984,867 L994,867 L989,880 Z"/><path d="M984,883 L994,883 L989,896 Z"/>
<path d="M984,902 L994,902 L989,915 Z"/><path d="M984,939 L994,939 L989,952 Z"/>
<rect x="984.5" y="957" width="9" height="11"/><path d="M984.5,957 L993.5,968 M993.5,957 L984.5,968"/>
<path d="M984,992 L995,991 M984,994 L994,994 L989,1002 Z"/>
<path d="M1143,997 h9 M1147.5,992 v10 M1168,997 h31"/>
<circle cx="1147.5" cy="997" r="5"/><circle cx="1147.5" cy="997" r="3.6"/><circle cx="1147.5" cy="997" r="2.4"/>
<path d="M1176,992 L1196,989 L1196,1005 L1178,1002 Z"/>
</g>
<path d="M984,920 L994,920 L989,934 Z" fill="#333"/>
<rect x="984.5" y="973" width="9" height="9" fill="#000"/>
<g font-size="4.5" text-anchor="middle"><text x="989" y="855">FA</text><text x="989" y="874">FC</text><text x="989" y="890">FP</text><text x="989" y="909">S</text><text x="989" y="946">C</text><text x="989" y="999">C</text></g>
<text x="1022" y="835.5" font-size="7.5" textLength="535" lengthAdjust="spacingAndGlyphs">THIS DRAWING CONTAINS INFORMATION THAT IS PROPRIETARY TO MOLEX ELECTRONIC TECHNOLOGIES, LLC AND SHOULD NOT BE USED WITHOUT WRITTEN PERMISSION</text>
<text x="1022" y="843.5" font-size="5" textLength="44" lengthAdjust="spacingAndGlyphs">DIMENSION UNITS</text>
<text x="1098" y="843.5" font-size="5" text-anchor="middle">SCALE</text>
<text x="1044" y="861" font-size="13" text-anchor="middle">IN/MM</text>
<text x="1098" y="861" font-size="13" text-anchor="middle">1:1</text>
<text x="1131" y="846" font-size="9">CURRENT REV DESC: NOTE 4 UPDATED</text>
<text x="1437" y="866.5" font-size="30" font-weight="bold" text-anchor="middle" letter-spacing="-1" fill="#000">molex</text>
<text x="1077.5" y="894" font-size="6.5" text-anchor="middle">MM</text><text x="1111" y="894" font-size="6.5" text-anchor="middle">INCH</text>
<g font-size="9.5">
<text x="1131" y="894">EC NO:</text><text x="1171" y="894">60547</text>
<text x="1131" y="907">DRWN:</text><text x="1171" y="907">SS06</text><text x="1316" y="907" text-anchor="end">2018/09/17</text>
<text x="1131" y="920.5">CHK'D:</text><text x="1171" y="920.5">ISHWARG</text><text x="1316" y="920.5" text-anchor="end">2018/10/05</text>
<text x="1131" y="934">APPR:</text><text x="1171" y="934">ISHWARG</text><text x="1316" y="934" text-anchor="end">2018/10/05</text>
<text x="1131" y="947.5">INITIAL REVISION:</text>
<text x="1131" y="960.5">DRWN</text><text x="1171" y="960.5">GUZIK</text><text x="1316" y="960.5" text-anchor="end">1989/11/15</text>
<text x="1131" y="974">APPR:</text><text x="1171" y="974">LENZ</text><text x="1316" y="974" text-anchor="end">1989/11/15</text>
</g>
<g font-size="5.5">
<text x="1320" y="948">DOCUMENT NUMBER</text><text x="1470" y="948">DOC TYPE</text><text x="1500" y="948">DOC PART</text><text x="1530" y="948">REVISION</text>
<text x="1132" y="983.5">THIRD ANGLE PROJECTION</text><text x="1238" y="983.5" text-anchor="middle">DRAWING</text><text x="1291" y="983.5" text-anchor="middle">SERIES</text>
<text x="1320" y="983.5">MATERIAL NUMBER</text><text x="1400" y="983.5">CUSTOMER</text><text x="1507" y="983.5">SHEET NUMBER</text>
</g>
<text x="1280" y="1003" font-size="12" text-anchor="middle">6</text>
</svg>
</body></html>
